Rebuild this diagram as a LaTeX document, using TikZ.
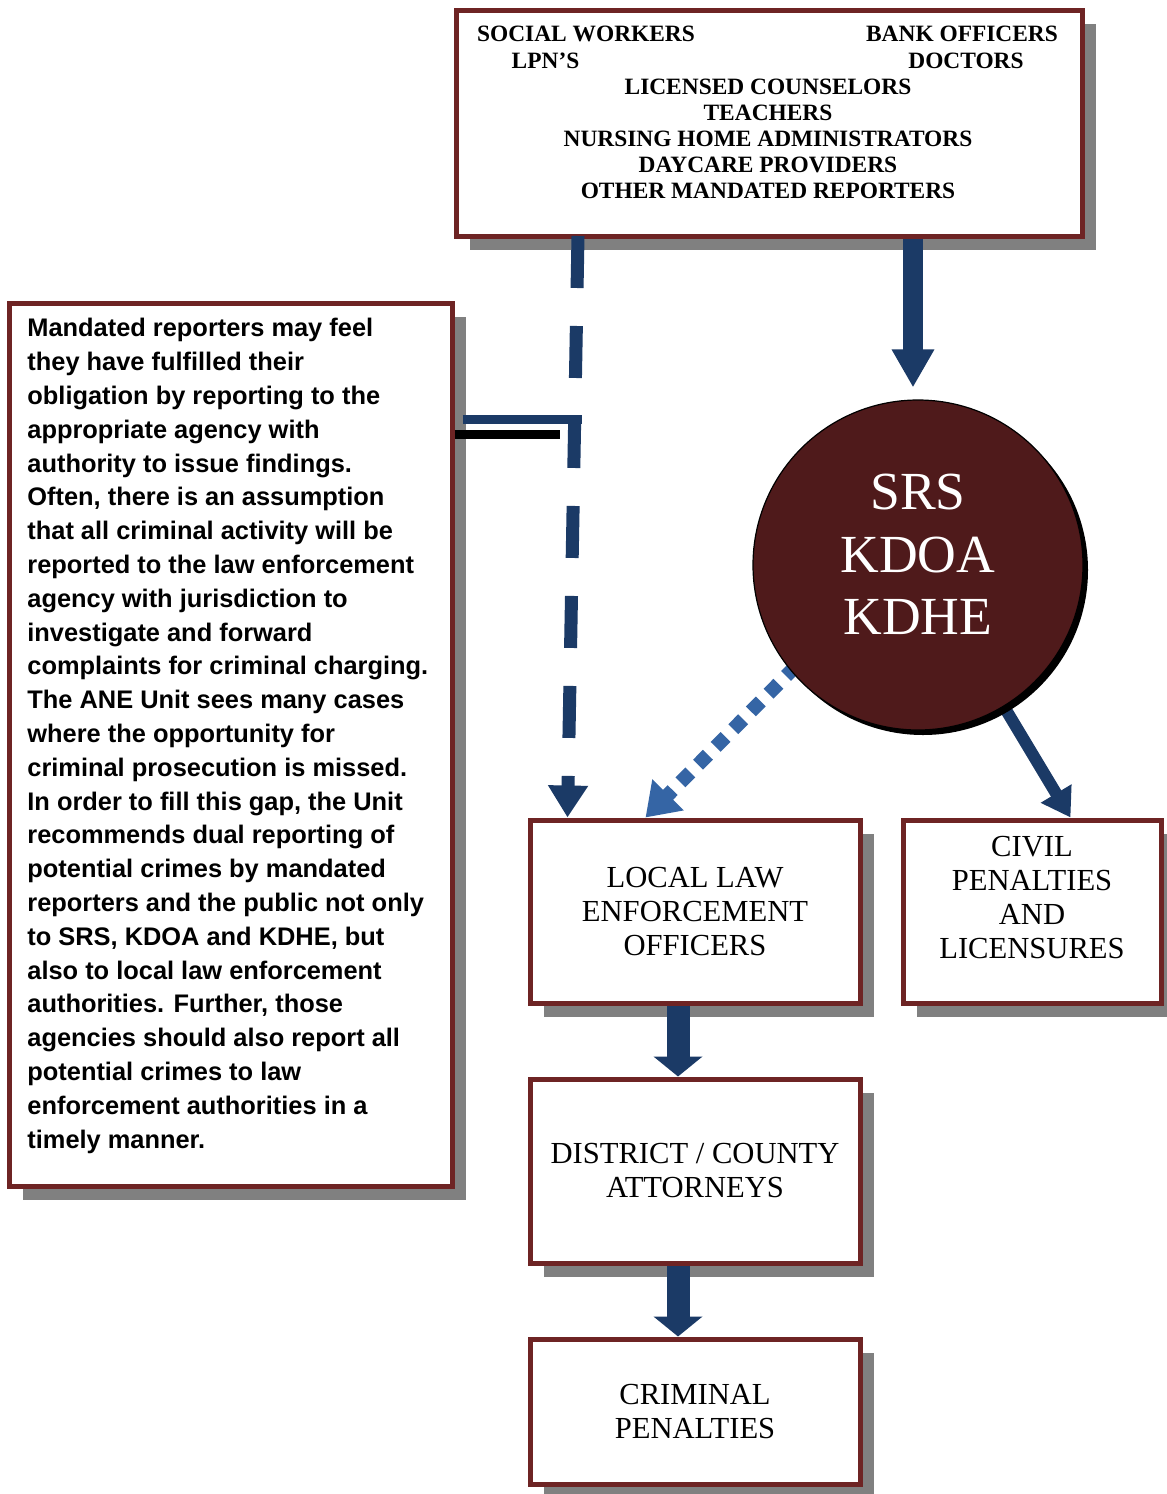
\documentclass[tikz,border=0pt]{standalone}
\usepackage{fontspec}
\setmainfont{Liberation Serif}
\newfontfamily\sansb{Liberation Sans}
\usetikzlibrary{arrows.meta,shadows}
\definecolor{boxred}{RGB}{110,36,36}
\definecolor{navy}{RGB}{27,58,102}
\definecolor{lblue}{RGB}{53,101,165}
\definecolor{circfill}{RGB}{79,26,27}
\definecolor{shadowgray}{RGB}{128,128,128}
\begin{document}
\begin{tikzpicture}[x=0.5pt,y=-0.5pt,
  box/.style={draw=boxred, line width=2.5pt, fill=white, inner sep=0pt,
    general shadow={fill=shadowgray, shadow xshift=7pt, shadow yshift=-7pt}},
  toptext/.style={font=\bfseries\fontsize{11.7}{14}\selectfont, anchor=base, inner sep=0pt},
  boxtext/.style={font=\fontsize{15.3}{17}\selectfont, align=center},
  circtext/.style={font=\fontsize{26.8}{31}\selectfont, text=white, align=center, inner sep=0pt},
  bigarrow/.style={draw=navy, line width=11.5pt, -{Triangle[width=24pt,length=10pt]}},
  toparrow/.style={draw=navy, line width=10pt, -{Triangle[width=20pt,length=19pt]}},
  dasharrow/.style={draw=navy, line width=6.5pt, dash pattern=on 26pt off 19pt, -{Triangle[width=19pt,length=16pt]}},
  dotarrow/.style={draw=lblue, line width=7pt, dash pattern=on 7pt off 5.5pt, -{Triangle[width=21pt,length=16pt]}},
  civarrow/.style={draw=navy, line width=6pt, -{Triangle[width=17pt,length=14pt]}},
  joinline/.style={line width=4.5pt}]
\useasboundingbox (0,0) rectangle (1167,1494);
\fill[white] (0,0) rectangle (1167,1494);

% top box
\node[box, minimum width=313pt, minimum height=113pt] (top) at (769,123) {};
\node[toptext] (t1) at (586,41) {SOCIAL WORKERS};
\node[toptext] (t2) at (962,41) {BANK OFFICERS};
\node[toptext] (t3) at (545.5,68) {LPN’S};
\node[toptext] (t4) at (966,68) {DOCTORS};
\node[toptext] (t5) at (768,94) {LICENSED COUNSELORS};
\node[toptext] (t6) at (768,120) {TEACHERS};
\node[toptext] (t7) at (768,146) {NURSING HOME ADMINISTRATORS};
\node[toptext] (t8) at (768,172) {DAYCARE PROVIDERS};
\node[toptext] (t9) at (768,198) {OTHER MANDATED REPORTERS};

% left box
\node[box, minimum width=221.5pt, minimum height=441.5pt] (left) at (230.5,744.5) {};
\node[anchor=north west, inner sep=0pt, align=left,
  font=\sansb\bfseries\fontsize{12.7}{16.9}\selectfont] (lefttext) at (27,318)
{Mandated reporters may feel\\
they have fulfilled their\\
obligation by reporting to the\\
appropriate agency with\\
authority to issue findings.\\
Often, there is an assumption\\
that all criminal activity will be\\
reported to the law enforcement\\
agency with jurisdiction to\\
investigate and forward\\
complaints for criminal charging.\\
The ANE Unit sees many cases\\
where the opportunity for\\
criminal prosecution is missed.\\
In order to fill this gap, the Unit\\
recommends dual reporting of\\
potential crimes by mandated\\
reporters and the public not only\\
to SRS, KDOA and KDHE, but\\
also to local law enforcement\\
authorities. Further, those\\
agencies should also report all\\
potential crimes to law\\
enforcement authorities in a\\
timely manner.};

% lower boxes
\node[box, boxtext, minimum width=165pt, minimum height=91.5pt] (law) at (695,911.5)
  {LOCAL LAW\\ENFORCEMENT\\OFFICERS};
\node[box, minimum width=129pt, minimum height=91.5pt] (civil) at (1032,911.5) {};
\node[boxtext, inner sep=0pt] (civiltext) at (1032,898) {CIVIL\\PENALTIES\\AND\\LICENSURES};
\node[box, boxtext, minimum width=165pt, minimum height=92pt] (dist) at (695,1171)
  {DISTRICT / COUNTY\\ATTORNEYS};
\node[box, boxtext, minimum width=165pt, minimum height=72.5pt] (crim) at (695,1411.5)
  {CRIMINAL\\PENALTIES};

% connectors drawn before circle
\coordinate (dstart) at (796,666);
\draw[dotarrow] (dstart) -- ([xshift=59pt]law.north west);
\coordinate (cstart) at (1000,700);
\draw[civarrow] (cstart) -- ([xshift=85pt]civil.north west);

% circle
\node[circle, draw=black, line width=0.6pt, fill=circfill, minimum size=165pt, inner sep=0pt,
  general shadow={fill=black, shadow xshift=2.5pt, shadow yshift=-2.5pt}] (circ) at (918,565) {};
\node[circtext] (c1) at (918,492) {SRS};
\node[circtext] (c2) at (918,555) {KDOA};
\node[circtext] (c3) at (918,617) {KDHE};

% arrows
\draw[toparrow] (top.south -| 913,0) -- ([yshift=6pt]circ.north -| 913,0);
\coordinate (dtop) at (578,236);
\draw[dasharrow] (dtop) -- ([xshift=20pt]law.north west);
\coordinate (cj) at (582,419);
\coordinate (cb) at (560,434);
\draw[joinline, navy] ([xshift=4pt]left.east |- cj) -- (cj);
\draw[joinline, black] (left.east |- cb) -- (cb);
\draw[bigarrow] ([xshift=-8.5pt]law.south) -- ([xshift=-8.5pt]dist.north);
\draw[bigarrow] ([xshift=-8.5pt]dist.south) -- ([xshift=-8.5pt]crim.north);
\end{tikzpicture}
\end{document}
